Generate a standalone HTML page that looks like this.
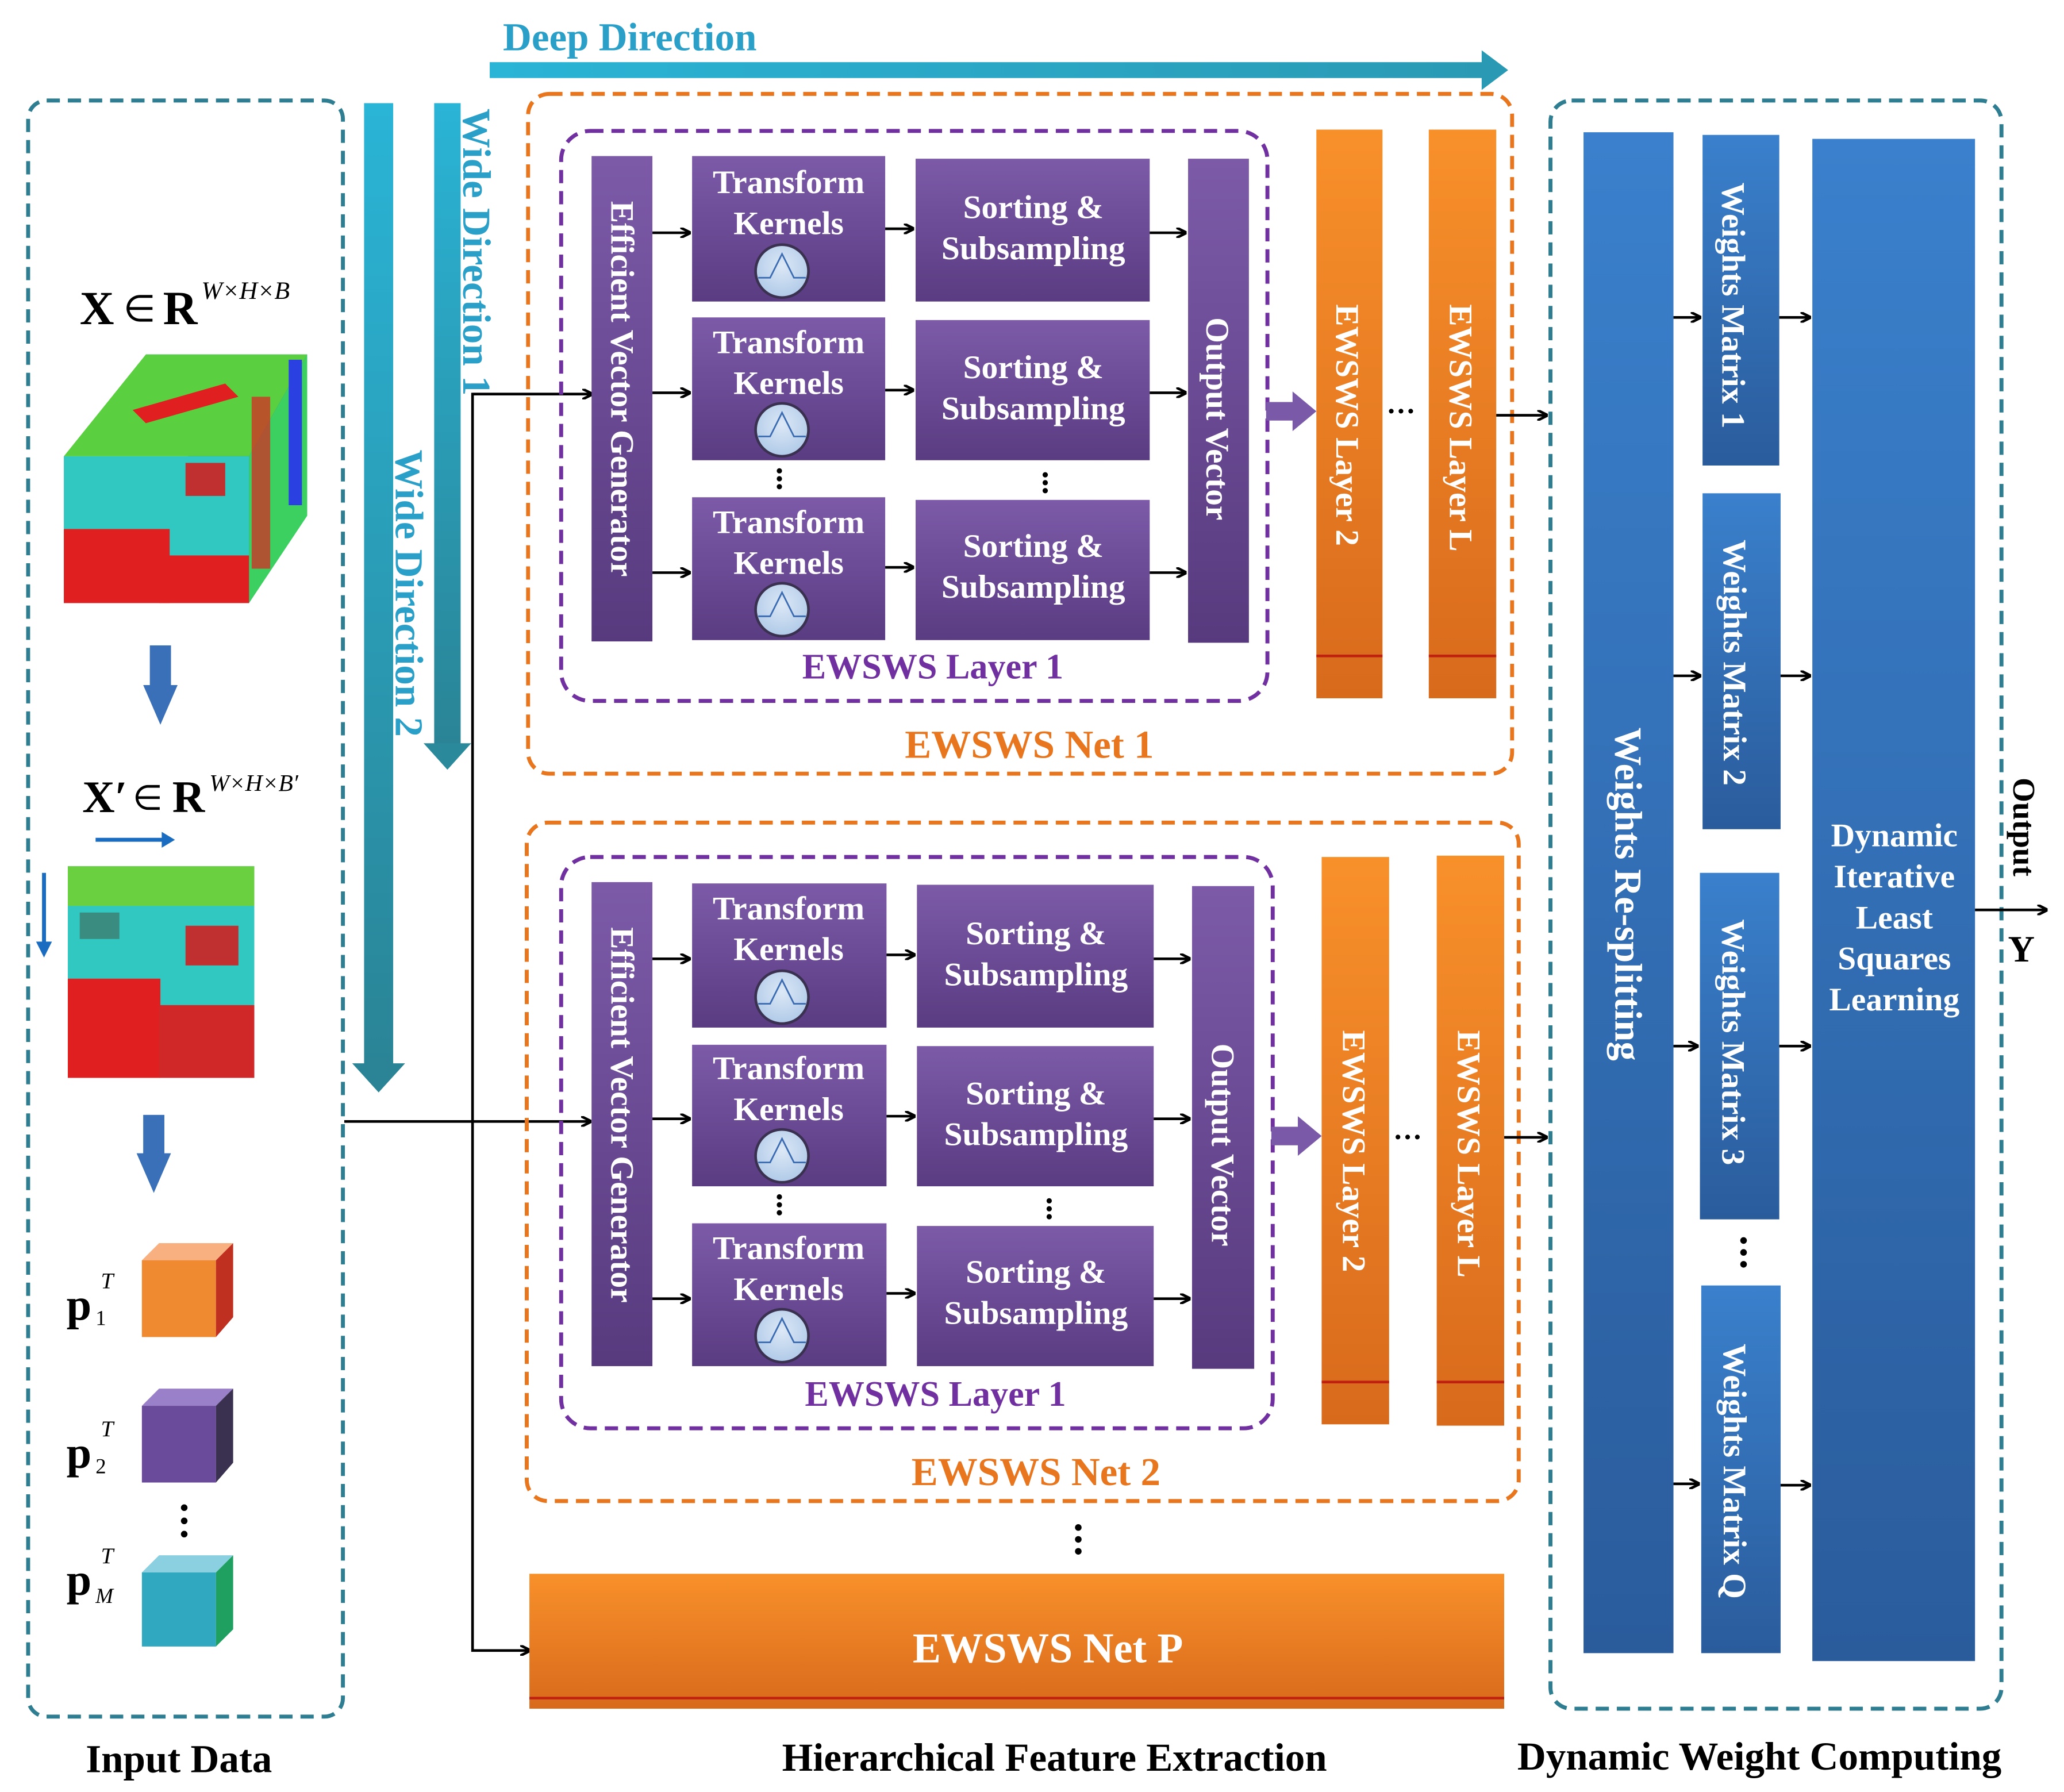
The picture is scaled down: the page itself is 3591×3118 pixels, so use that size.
<!DOCTYPE html>
<html><head><meta charset="utf-8"><style>html,body{margin:0;padding:0;background:#fff}svg{display:block}</style></head><body>
<svg xmlns="http://www.w3.org/2000/svg" width="3591" height="3118" viewBox="0 0 1560 1355" font-family="Liberation Serif, serif" font-weight="bold">
<defs>
<linearGradient id="pu" x1="0" y1="0" x2="0" y2="1"><stop offset="0" stop-color="#7c5aa8"/><stop offset="1" stop-color="#5a3c82"/></linearGradient>
<linearGradient id="puv" x1="0" y1="0" x2="0" y2="1"><stop offset="0" stop-color="#7c5aa8"/><stop offset="1" stop-color="#573a7e"/></linearGradient>
<linearGradient id="or" x1="0" y1="0" x2="0" y2="1"><stop offset="0" stop-color="#f8902a"/><stop offset="1" stop-color="#d86a1c"/></linearGradient>
<linearGradient id="bl" x1="0" y1="0" x2="0" y2="1"><stop offset="0" stop-color="#3a80cc"/><stop offset="1" stop-color="#2a5c9c"/></linearGradient>
<linearGradient id="te" x1="0" y1="0" x2="0" y2="1"><stop offset="0" stop-color="#2ab4d6"/><stop offset="1" stop-color="#2a8496"/></linearGradient>
<linearGradient id="teh" x1="0" y1="0" x2="1" y2="0"><stop offset="0" stop-color="#2ab4d6"/><stop offset="1" stop-color="#2a9ab4"/></linearGradient>
<radialGradient id="kn" cx="0.5" cy="0.4" r="0.6"><stop offset="0" stop-color="#dce8f6"/><stop offset="1" stop-color="#b0cae8"/></radialGradient>
<marker id="ah" markerWidth="8" markerHeight="8" refX="7" refY="4" orient="auto" markerUnits="userSpaceOnUse"><path d="M0,0 L8,4 L0,8" fill="none" stroke="#000" stroke-width="2"/></marker>
</defs>

<!-- Deep direction -->
<text x="380" y="38" font-size="30" fill="#2aa0c8">Deep Direction</text>
<rect x="370" y="47" width="752" height="12" fill="url(#teh)"/>
<polygon points="1120,38 1140,53 1120,68" fill="#2a9ab4"/>

<!-- Left box -->
<rect x="21" y="76" width="238" height="1222" rx="14" fill="none" stroke="#2e7d90" stroke-width="3" stroke-dasharray="10,6"/>
<text x="60" y="245" font-size="36">X</text><text x="93" y="243" font-size="28" font-weight="normal">∈</text><text x="123" y="245" font-size="36">R</text>
<text x="152" y="226" font-size="19" font-style="italic" font-weight="normal">W×H×B</text>
<!-- cube 1 -->
<polygon points="110,268 232,268 232,388 188,456" fill="#2a40e0"/>
<polygon points="48,345 110,268 232,268 188,345" fill="#5ad040"/>
<polygon points="188,345 232,268 232,390 188,456" fill="#3cd060"/>
<rect x="218" y="272" width="10" height="110" fill="#2a40e0"/>
<rect x="190" y="300" width="14" height="130" fill="#e02020" opacity="0.7"/>
<rect x="48" y="345" width="140" height="111" fill="#30c8c0"/>
<rect x="48" y="400" width="80" height="56" fill="#e02020"/>
<rect x="120" y="420" width="68" height="36" fill="#e02020"/>
<rect x="140" y="350" width="30" height="25" fill="#c03030"/>
<polygon points="100,310 170,290 180,300 110,320" fill="#e02020"/>
<rect x="113" y="488" width="16" height="32" fill="#3a70b8"/><polygon points="108,518 134,518 121,548" fill="#3a70b8"/>
<text x="62" y="614" font-size="34">X′</text><text x="100" y="612" font-size="26" font-weight="normal">∈</text><text x="130" y="614" font-size="34">R</text>
<text x="158" y="598" font-size="18" font-style="italic" font-weight="normal">W×H×B′</text>
<line x1="72" y1="635" x2="128" y2="635" stroke="#1a6cc0" stroke-width="3"/><polygon points="122,629 132,635 122,641" fill="#1a6cc0"/>
<line x1="33" y1="660" x2="33" y2="718" stroke="#1a6cc0" stroke-width="3"/><polygon points="27,712 33,724 39,712" fill="#1a6cc0"/>
<rect x="51" y="655" width="141" height="160" fill="#30c8c0"/>
<rect x="51" y="655" width="141" height="30" fill="#6ad040"/>
<rect x="51" y="740" width="70" height="75" fill="#e02020"/>
<rect x="120" y="760" width="72" height="55" fill="#d02828"/>
<rect x="140" y="700" width="40" height="30" fill="#c03030"/>
<rect x="60" y="690" width="30" height="20" fill="#3a8c80"/>
<rect x="108" y="843" width="16" height="32" fill="#3a70b8"/><polygon points="103,872 129,872 116,902" fill="#3a70b8"/>
<text x="50" y="998" font-size="34">p</text><text x="76" y="974" font-size="17" font-style="italic" font-weight="normal">T</text><text x="72" y="1002" font-size="16" font-weight="normal">1</text>
<polygon points="107,953 120,940 176,940 163,953" fill="#f8b080"/><rect x="107" y="953" width="56" height="58" fill="#f08a30"/><polygon points="163,953 176,940 176,996 163,1011" fill="#c03020"/>
<text x="50" y="1110" font-size="34">p</text><text x="76" y="1086" font-size="17" font-style="italic" font-weight="normal">T</text><text x="72" y="1114" font-size="16" font-weight="normal">2</text>
<polygon points="107,1063 120,1050 176,1050 163,1063" fill="#9a80c8"/><rect x="107" y="1063" width="56" height="58" fill="#6a4a9a"/><polygon points="163,1063 176,1050 176,1106 163,1121" fill="#3a3050"/>
<circle cx="139" cy="1140" r="2.5"/><circle cx="139" cy="1150" r="2.5"/><circle cx="139" cy="1160" r="2.5"/>
<text x="50" y="1206" font-size="34">p</text><text x="76" y="1182" font-size="17" font-style="italic" font-weight="normal">T</text><text x="72" y="1212" font-size="16" font-style="italic" font-weight="normal">M</text>
<polygon points="107,1189 120,1176 176,1176 163,1189" fill="#8ad0e0"/><rect x="107" y="1189" width="56" height="56" fill="#30a8c0"/><polygon points="163,1189 176,1176 176,1232 163,1245" fill="#20a060"/>
<text x="135" y="1340" font-size="30" text-anchor="middle">Input Data</text>

<!-- wide direction arrows -->
<rect x="275" y="78" width="22" height="728" fill="url(#te)"/>
<polygon points="266,804 306,804 286,826" fill="#2a8496"/>
<text font-size="30" fill="#2aa0c8" transform="translate(299,340) rotate(90)">Wide Direction 2</text>
<rect x="328" y="78" width="20" height="485" fill="url(#te)"/>
<polygon points="320,562 356,562 338,582" fill="#2a8a9c"/>
<text font-size="30" fill="#2aa0c8" transform="translate(350,82) rotate(90)">Wide Direction 1</text>

<!-- input lines -->
<polyline points="447,298 357,298 357,1248 400,1248" fill="none" stroke="#000" stroke-width="2" marker-end="url(#ah)"/>
<line x1="357" y1="298" x2="447" y2="298" stroke="#000" stroke-width="2" marker-end="url(#ah)"/>
<line x1="260" y1="848" x2="446" y2="848" stroke="#000" stroke-width="2" marker-end="url(#ah)"/>

<!-- NET 1 -->
<rect x="399" y="71" width="744" height="514" rx="16" fill="none" stroke="#e8761e" stroke-width="3" stroke-dasharray="10,6"/>
<rect x="424" y="99" width="534" height="431" rx="22" fill="none" stroke="#7030a0" stroke-width="3" stroke-dasharray="10,6"/>
<rect x="447" y="118" width="46" height="367" fill="url(#puv)"/>
<text font-size="25" fill="#fff" transform="translate(462,152) rotate(90)">Efficient Vector Generator</text>
<g fill="url(#pu)"><rect x="523" y="118" width="146" height="110"/><rect x="523" y="240" width="146" height="108"/><rect x="523" y="376" width="146" height="108"/>
<rect x="692" y="120" width="177" height="108"/><rect x="692" y="242" width="177" height="106"/><rect x="692" y="378" width="177" height="106"/></g>
<rect x="898" y="120" width="46" height="366" fill="url(#puv)"/>
<text font-size="25" fill="#fff" transform="translate(912,240) rotate(90)">Output Vector</text>
<g font-size="25" fill="#fff" text-anchor="middle">
<text x="596" y="146">Transform</text><text x="596" y="177">Kernels</text>
<text x="596" y="267">Transform</text><text x="596" y="298">Kernels</text>
<text x="596" y="403">Transform</text><text x="596" y="434">Kernels</text>
<text x="781" y="165">Sorting &amp;</text><text x="781" y="196">Subsampling</text>
<text x="781" y="286">Sorting &amp;</text><text x="781" y="317">Subsampling</text>
<text x="781" y="421">Sorting &amp;</text><text x="781" y="452">Subsampling</text></g>
<g><circle cx="591" cy="205" r="20" fill="url(#kn)" stroke="#3a3050" stroke-width="2"/><path d="M573,210 L582,210 L591,192 L600,210 L609,210" fill="none" stroke="#3a6ab0" stroke-width="1.2"/>
<circle cx="591" cy="325" r="20" fill="url(#kn)" stroke="#3a3050" stroke-width="2"/><path d="M573,330 L582,330 L591,312 L600,330 L609,330" fill="none" stroke="#3a6ab0" stroke-width="1.2"/>
<circle cx="591" cy="461" r="20" fill="url(#kn)" stroke="#3a3050" stroke-width="2"/><path d="M573,466 L582,466 L591,448 L600,466 L609,466" fill="none" stroke="#3a6ab0" stroke-width="1.2"/></g>
<g stroke="#000" stroke-width="2" marker-end="url(#ah)">
<line x1="493" y1="176" x2="521" y2="176"/><line x1="493" y1="297" x2="521" y2="297"/><line x1="493" y1="433" x2="521" y2="433"/>
<line x1="669" y1="173" x2="690" y2="173"/><line x1="669" y1="295" x2="690" y2="295"/><line x1="669" y1="429" x2="690" y2="429"/>
<line x1="869" y1="176" x2="896" y2="176"/><line x1="869" y1="297" x2="896" y2="297"/><line x1="869" y1="433" x2="896" y2="433"/></g>
<g fill="#000"><circle cx="589" cy="356" r="2"/><circle cx="589" cy="362" r="2"/><circle cx="589" cy="368" r="2"/><circle cx="790" cy="359" r="2"/><circle cx="790" cy="365" r="2"/><circle cx="790" cy="371" r="2"/></g>
<text x="705" y="513" font-size="27" fill="#7030a0" text-anchor="middle">EWSWS Layer 1</text>
<polygon points="957,304 977,304 977,296 995,311 977,326 977,318 957,318" fill="#7a5aa8"/>
<rect x="995" y="98" width="50" height="430" fill="url(#or)"/><line x1="995" y1="496" x2="1045" y2="496" stroke="#c02010" stroke-width="2"/>
<text font-size="25" fill="#fff" transform="translate(1010,230) rotate(90)">EWSWS Layer 2</text>
<text x="1048" y="318" font-size="22">···</text>
<rect x="1080" y="98" width="51" height="430" fill="url(#or)"/><line x1="1080" y1="496" x2="1131" y2="496" stroke="#c02010" stroke-width="2"/>
<text font-size="25" fill="#fff" transform="translate(1096,230) rotate(90)">EWSWS Layer L</text>
<text x="778" y="573" font-size="30" fill="#e8761e" text-anchor="middle">EWSWS Net 1</text>
<line x1="1131" y1="314" x2="1169" y2="314" stroke="#000" stroke-width="2" marker-end="url(#ah)"/>

<!-- NET 2 -->
<g transform="translate(1,549)">
<rect x="397" y="73" width="750" height="513" rx="16" fill="none" stroke="#e8761e" stroke-width="3" stroke-dasharray="10,6"/>
<rect x="423" y="99" width="538" height="432" rx="22" fill="none" stroke="#7030a0" stroke-width="3" stroke-dasharray="10,6"/>
<rect x="446" y="118" width="46" height="366" fill="url(#puv)"/>
<text font-size="25" fill="#fff" transform="translate(461,152) rotate(90)">Efficient Vector Generator</text>
<g fill="url(#pu)"><rect x="522" y="119" width="147" height="109"/><rect x="522" y="241" width="147" height="107"/><rect x="522" y="376" width="147" height="108"/>
<rect x="692" y="120" width="179" height="108"/><rect x="692" y="242" width="179" height="106"/><rect x="692" y="378" width="179" height="106"/></g>
<rect x="900" y="121" width="47" height="365" fill="url(#puv)"/>
<text font-size="25" fill="#fff" transform="translate(915,240) rotate(90)">Output Vector</text>
<g font-size="25" fill="#fff" text-anchor="middle">
<text x="595" y="146">Transform</text><text x="595" y="177">Kernels</text>
<text x="595" y="267">Transform</text><text x="595" y="298">Kernels</text>
<text x="595" y="403">Transform</text><text x="595" y="434">Kernels</text>
<text x="782" y="165">Sorting &amp;</text><text x="782" y="196">Subsampling</text>
<text x="782" y="286">Sorting &amp;</text><text x="782" y="317">Subsampling</text>
<text x="782" y="421">Sorting &amp;</text><text x="782" y="452">Subsampling</text></g>
<g><circle cx="590" cy="205" r="20" fill="url(#kn)" stroke="#3a3050" stroke-width="2"/><path d="M572,210 L581,210 L590,192 L599,210 L608,210" fill="none" stroke="#3a6ab0" stroke-width="1.2"/>
<circle cx="590" cy="325" r="20" fill="url(#kn)" stroke="#3a3050" stroke-width="2"/><path d="M572,330 L581,330 L590,312 L599,330 L608,330" fill="none" stroke="#3a6ab0" stroke-width="1.2"/>
<circle cx="590" cy="461" r="20" fill="url(#kn)" stroke="#3a3050" stroke-width="2"/><path d="M572,466 L581,466 L590,448 L599,466 L608,466" fill="none" stroke="#3a6ab0" stroke-width="1.2"/></g>
<g stroke="#000" stroke-width="2" marker-end="url(#ah)">
<line x1="492" y1="176" x2="520" y2="176"/><line x1="492" y1="297" x2="520" y2="297"/><line x1="492" y1="433" x2="520" y2="433"/>
<line x1="669" y1="173" x2="690" y2="173"/><line x1="669" y1="295" x2="690" y2="295"/><line x1="669" y1="429" x2="690" y2="429"/>
<line x1="871" y1="176" x2="898" y2="176"/><line x1="871" y1="297" x2="898" y2="297"/><line x1="871" y1="433" x2="898" y2="433"/></g>
<g fill="#000"><circle cx="588" cy="356" r="2"/><circle cx="588" cy="362" r="2"/><circle cx="588" cy="368" r="2"/><circle cx="792" cy="359" r="2"/><circle cx="792" cy="365" r="2"/><circle cx="792" cy="371" r="2"/></g>
<text x="706" y="514" font-size="27" fill="#7030a0" text-anchor="middle">EWSWS Layer 1</text>
<polygon points="960,303 980,303 980,295 998,310 980,325 980,317 960,317" fill="#7a5aa8"/>
<rect x="998" y="99" width="51" height="429" fill="url(#or)"/><line x1="998" y1="496" x2="1049" y2="496" stroke="#c02010" stroke-width="2"/>
<text font-size="25" fill="#fff" transform="translate(1014,230) rotate(90)">EWSWS Layer 2</text>
<text x="1052" y="318" font-size="22">···</text>
<rect x="1085" y="98" width="51" height="431" fill="url(#or)"/><line x1="1085" y1="496" x2="1136" y2="496" stroke="#c02010" stroke-width="2"/>
<text font-size="25" fill="#fff" transform="translate(1101,230) rotate(90)">EWSWS Layer L</text>
<text x="782" y="574" font-size="30" fill="#e8761e" text-anchor="middle">EWSWS Net 2</text>
<line x1="1136" y1="311" x2="1168" y2="311" stroke="#000" stroke-width="2" marker-end="url(#ah)"/>
</g>
<g fill="#000"><circle cx="815" cy="1155" r="2.5"/><circle cx="815" cy="1164" r="2.5"/><circle cx="815" cy="1173" r="2.5"/></g>

<!-- Net P -->
<rect x="400" y="1190" width="737" height="102" fill="url(#or)"/>
<line x1="400" y1="1284" x2="1137" y2="1284" stroke="#c02010" stroke-width="2"/>
<text x="792" y="1257" font-size="32" fill="#fff" text-anchor="middle">EWSWS Net P</text>
<text x="797" y="1339" font-size="30" text-anchor="middle">Hierarchical Feature Extraction</text>

<!-- Right box -->
<rect x="1172" y="76" width="341" height="1216" rx="16" fill="none" stroke="#2e7d90" stroke-width="3" stroke-dasharray="10,6"/>
<rect x="1197" y="100" width="68" height="1150" fill="url(#bl)"/>
<text font-size="29" fill="#fff" transform="translate(1221,550) rotate(90)">Weights Re-splitting</text>
<g fill="url(#bl)"><rect x="1287" y="102" width="58" height="250"/><rect x="1287" y="373" width="59" height="254"/><rect x="1285" y="660" width="60" height="262"/><rect x="1286" y="972" width="60" height="278"/></g>
<g font-size="25" fill="#fff">
<text transform="translate(1302,138) rotate(90)">Weights Matrix  1</text>
<text transform="translate(1303,408) rotate(90)">Weights Matrix  2</text>
<text transform="translate(1302,695) rotate(90)">Weights Matrix  3</text>
<text transform="translate(1303,1016) rotate(90)">Weights Matrix  Q</text></g>
<g fill="#000"><circle cx="1318" cy="938" r="2.5"/><circle cx="1318" cy="947" r="2.5"/><circle cx="1318" cy="956" r="2.5"/></g>
<rect x="1370" y="105" width="123" height="1151" fill="url(#bl)"/>
<g font-size="25" fill="#fff" text-anchor="middle"><text x="1432" y="640">Dynamic</text><text x="1432" y="671">Iterative</text><text x="1432" y="702">Least</text><text x="1432" y="733">Squares</text><text x="1432" y="764">Learning</text></g>
<g stroke="#000" stroke-width="2" marker-end="url(#ah)">
<line x1="1265" y1="240" x2="1285" y2="240"/><line x1="1265" y1="511" x2="1285" y2="511"/><line x1="1265" y1="791" x2="1283" y2="791"/><line x1="1265" y1="1122" x2="1284" y2="1122"/>
<line x1="1345" y1="240" x2="1368" y2="240"/><line x1="1346" y1="511" x2="1368" y2="511"/><line x1="1345" y1="791" x2="1368" y2="791"/><line x1="1346" y1="1123" x2="1368" y2="1123"/>
<line x1="1493" y1="688" x2="1547" y2="688"/></g>
<text font-size="24" transform="translate(1522,588) rotate(90)">Output</text>
<text x="1528" y="727" font-size="28" text-anchor="middle">Y</text>
<text x="1330" y="1338" font-size="30" text-anchor="middle">Dynamic Weight Computing</text>
</svg>
</body></html>
